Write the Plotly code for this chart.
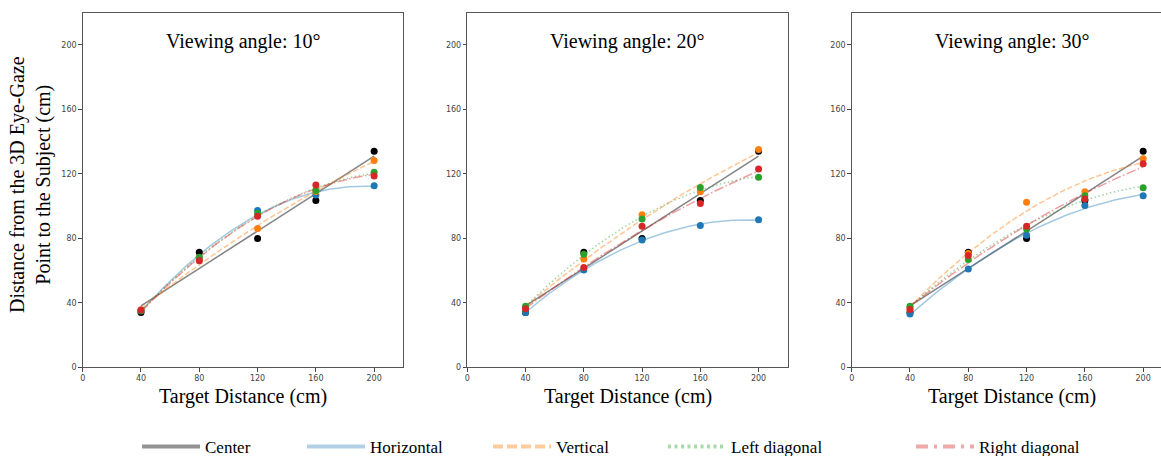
import numpy as np
import plotly.graph_objects as go

# Target distances (cm)
target = [40, 80, 120, 160, 200]

# Measured distance from the 3D eye-gaze point to the subject (cm)
center = [34.0, 71.3, 79.8, 103.5, 134.0]

horizontal_10 = [35.0, 68.0, 97.3, 106.8, 112.6]
vertical_10 = [35.5, 66.5, 86.0, 109.0, 128.2]
left_diag_10 = [35.0, 68.2, 95.3, 109.7, 121.0]
right_diag_10 = [35.5, 66.0, 93.6, 113.0, 118.6]

horizontal_20 = [34.0, 60.4, 79.0, 88.0, 91.5]
vertical_20 = [37.0, 67.2, 94.6, 108.9, 135.0]
left_diag_20 = [37.9, 70.1, 92.0, 111.5, 117.9]
right_diag_20 = [36.3, 61.9, 87.4, 101.6, 122.9]

horizontal_30 = [33.0, 61.0, 81.9, 100.4, 106.4]
vertical_30 = [37.0, 70.5, 102.3, 108.9, 129.3]
left_diag_30 = [37.9, 66.8, 85.8, 106.4, 111.3]
right_diag_30 = [35.9, 69.3, 87.4, 104.3, 126.2]

angles = ["10°", "20°", "30°"]
series_names = ["Center", "Horizontal", "Vertical", "Left diagonal", "Right diagonal"]

panels = [
    [center, horizontal_10, vertical_10, left_diag_10, right_diag_10],
    [center, horizontal_20, vertical_20, left_diag_20, right_diag_20],
    [center, horizontal_30, vertical_30, left_diag_30, right_diag_30],
]

# styling per series
point_colors = ["#000000", "#1f77b4", "#ff7f0e", "#2ca02c", "#d62728"]
line_colors = [
    "rgba(110,110,110,0.85)",
    "rgba(31,119,180,0.40)",
    "rgba(255,127,14,0.45)",
    "rgba(44,160,44,0.45)",
    "rgba(214,39,40,0.45)",
]
legend_colors = [
    "rgba(120,120,120,0.8)",
    "rgba(31,119,180,0.35)",
    "rgba(255,127,14,0.4)",
    "rgba(44,160,44,0.4)",
    "rgba(214,39,40,0.4)",
]
plot_dash = ["solid", "solid", "5.5px,2.4px", "1.5px,2.5px", "9.6px,2.4px,1.5px,2.4px"]
legend_dash = ["solid", "solid", "10px,4px", "3px,3.5px", "12px,6px,3px,6px"]
fit_degree = [1, 2, 2, 2, 2]

SERIF = "Liberation Serif, Times New Roman, serif"
W, H = 1161, 456

fig = go.Figure()

x_fit = np.linspace(min(target), max(target), 120)
for p, series in enumerate(panels):
    xa = "x" if p == 0 else f"x{p + 1}"
    ya = "y" if p == 0 else f"y{p + 1}"
    # least-squares trend lines
    for i, vals in enumerate(series):
        coef = np.polyfit(target, vals, fit_degree[i])
        fig.add_trace(go.Scatter(
            x=x_fit, y=np.polyval(coef, x_fit), mode="lines",
            line=dict(color=line_colors[i], width=1.5, dash=plot_dash[i]),
            xaxis=xa, yaxis=ya, showlegend=False, hoverinfo="skip",
        ))
    # measured points
    for i, vals in enumerate(series):
        fig.add_trace(go.Scatter(
            x=target, y=vals, mode="markers",
            marker=dict(color=point_colors[i], size=7, line=dict(width=0)),
            xaxis=xa, yaxis=ya, showlegend=False, name=series_names[i],
        ))

# legend entries, one legend per entry so spacing follows the text
legend_x = [137, 302, 488, 663, 911]
for i, name in enumerate(series_names):
    key = "legend" if i == 0 else f"legend{i + 1}"
    fig.add_trace(go.Scatter(
        x=[None], y=[None], mode="lines", name=name,
        line=dict(color=legend_colors[i], width=4, dash=legend_dash[i]),
        legend=key, showlegend=True,
    ))
    fig.update_layout({key: dict(
        x=legend_x[i] / W, xanchor="left", y=1 - 447 / H, yanchor="middle",
        orientation="h", itemwidth=58, bgcolor="rgba(0,0,0,0)",
        font=dict(family=SERIF, size=17, color="#000"),
    )})

# axes geometry
y_dom = [1 - 367.3 / H, 1 - 12.5 / H]
x_doms = [[82.7 / W, 403.3 / W], [467.3 / W, 787.7 / W], [851.7 / W, 1.0]]
x_ranges = [[0, 220], [0, 220], [0, 220 * (W - 851.7) / 320.6]]
ticks = [0, 40, 80, 120, 160, 200]

common = dict(
    showgrid=False, zeroline=False, showline=True, linecolor="#555", linewidth=1,
    ticks="outside", ticklen=3.5, tickwidth=0.8, tickcolor="#444",
    tickvals=ticks, tickfont=dict(family="DejaVu Sans", size=8, color="#444"),
)
for p in range(3):
    xk = "xaxis" if p == 0 else f"xaxis{p + 1}"
    yk = "yaxis" if p == 0 else f"yaxis{p + 1}"
    xa = "x" if p == 0 else f"x{p + 1}"
    ya = "y" if p == 0 else f"y{p + 1}"
    fig.update_layout({
        xk: dict(common, domain=x_doms[p], range=x_ranges[p], anchor=ya, mirror=True),
        yk: dict(common, domain=y_dom, range=[0, 220], anchor=xa, mirror=(p < 2)),
    })
    fig.add_annotation(
        text=f"Viewing angle: {angles[p]}", xref=xa, x=110, xanchor="center",
        yref="paper", y=1 - 41 / H, yanchor="middle", showarrow=False,
        font=dict(family=SERIF, size=20, color="#000"),
    )
    fig.add_annotation(
        text="Target Distance (cm)", xref=xa, x=110, xanchor="center",
        yref="paper", y=1 - 396 / H, yanchor="middle", showarrow=False,
        font=dict(family=SERIF, size=20, color="#000"),
    )

fig.add_annotation(
    text="Distance from the 3D Eye-Gaze<br>Point to the Subject (cm)",
    xref="paper", x=30 / W, xanchor="center", yref="paper", y=1 - 185 / H,
    yanchor="middle", textangle=-90, showarrow=False,
    font=dict(family=SERIF, size=20, color="#000"),
)

fig.update_layout(
    width=W, height=H, margin=dict(l=0, r=0, t=0, b=0, autoexpand=False),
    paper_bgcolor="white", plot_bgcolor="white",
)

fig.write_html("out.html")
